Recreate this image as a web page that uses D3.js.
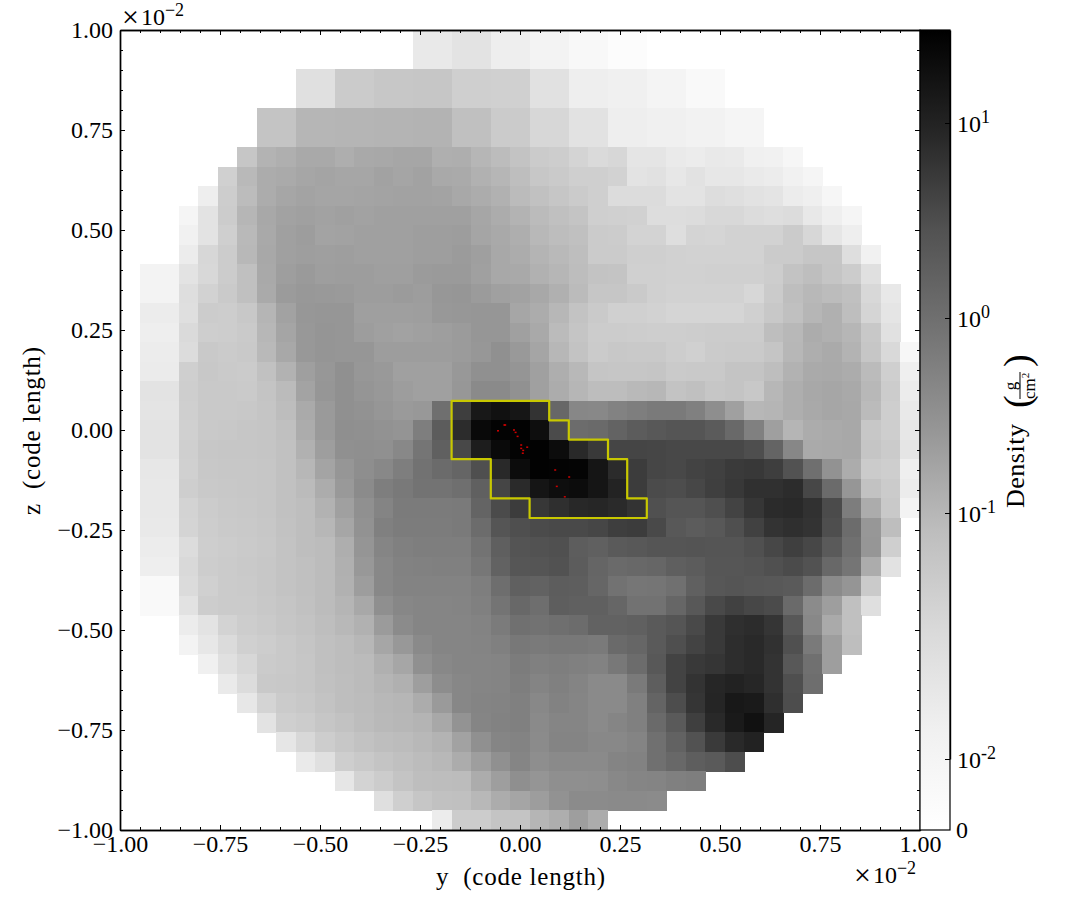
<!DOCTYPE html>
<html><head><meta charset="utf-8">
<script src="https://cdn.jsdelivr.net/npm/d3@7/dist/d3.min.js"></script>
<style>
html,body{margin:0;padding:0;background:#fff;}
svg{display:block;}
text{font-family:"Liberation Serif",serif;fill:#000;}
</style></head><body><svg id="c" width="1085" height="920"></svg>
<script>
// Values: log10(density) x 100 for every filled cell; a row starts at column rowFirstColumn[r]
const gridSize = 41;
const rowFirstColumn = [15,15,9,9,7,7,6,5,4,3,3,3,1,1,1,1,1,1,1,1,1,1,1,1,1,1,1,1,1,1,3,3,4,5,6,7,8,9,11,13,16];
const logDensityRows = [
[-176,-176,-165,-165,-185,-185,-196,-196,-218,-218,-255,-255],
[-176,-176,-165,-165,-185,-185,-196,-196,-218,-218,-255,-255],
[-160,-160,-127,-127,-121,-121,-120,-120,-133,-133,-135,-135,-162,-162,-185,-185,-188,-188,-199,-199,-225,-225],
[-160,-160,-127,-127,-121,-121,-120,-120,-133,-133,-135,-135,-162,-162,-185,-185,-188,-188,-199,-199,-225,-225],
[-117,-117,-99,-99,-98,-98,-97,-97,-96,-96,-111,-111,-127,-127,-145,-145,-164,-164,-185,-185,-188,-188,-194,-194,-202,-202],
[-117,-117,-99,-99,-98,-98,-97,-97,-96,-96,-111,-111,-127,-127,-145,-145,-164,-164,-185,-185,-188,-188,-194,-194,-202,-202],
[-120,-96,-90,-82,-82,-89,-82,-81,-79,-79,-90,-89,-100,-106,-116,-127,-130,-140,-149,-145,-169,-169,-178,-181,-176,-178,-188,-191,-207],
[-135,-103,-87,-84,-78,-76,-78,-78,-73,-77,-73,-82,-84,-93,-100,-109,-121,-126,-133,-133,-137,-165,-162,-173,-164,-173,-173,-178,-181,-191,-202],
[-185,-130,-106,-86,-78,-74,-77,-77,-76,-74,-73,-73,-74,-81,-87,-93,-105,-112,-120,-127,-133,-153,-153,-153,-165,-165,-155,-158,-164,-167,-182,-187,-207],
[-202,-165,-128,-99,-81,-73,-71,-73,-71,-73,-71,-70,-70,-70,-70,-79,-86,-96,-105,-111,-117,-133,-135,-136,-155,-155,-153,-146,-146,-153,-156,-153,-174,-187,-202],
[-191,-165,-133,-103,-82,-71,-67,-74,-73,-71,-70,-71,-68,-68,-67,-77,-82,-89,-102,-107,-111,-127,-128,-139,-139,-156,-140,-142,-137,-137,-137,-127,-145,-171,-185],
[-181,-144,-128,-102,-81,-70,-68,-69,-68,-71,-70,-70,-68,-68,-64,-69,-81,-86,-97,-103,-109,-127,-127,-133,-133,-136,-137,-137,-137,-137,-127,-127,-120,-120,-156,-191],
[-196,-196,-165,-146,-128,-111,-82,-68,-63,-68,-66,-67,-69,-69,-64,-63,-63,-70,-81,-82,-93,-100,-107,-116,-117,-135,-135,-136,-136,-135,-135,-135,-130,-116,-108,-118,-128,-160],
[-196,-196,-156,-137,-126,-111,-84,-64,-60,-61,-63,-66,-66,-64,-66,-59,-58,-64,-70,-73,-81,-91,-105,-120,-120,-126,-135,-137,-137,-137,-137,-144,-127,-109,-102,-106,-111,-146,-174],
[-182,-182,-158,-128,-130,-123,-98,-73,-59,-58,-58,-69,-69,-69,-68,-60,-59,-58,-58,-78,-86,-101,-116,-126,-135,-135,-137,-142,-142,-142,-142,-135,-123,-111,-99,-91,-109,-142,-169],
[-185,-185,-149,-131,-130,-126,-101,-77,-60,-56,-58,-66,-70,-73,-70,-68,-64,-58,-58,-70,-82,-105,-118,-128,-128,-130,-131,-131,-130,-128,-128,-128,-109,-102,-87,-91,-100,-123,-162],
[-181,-181,-153,-124,-127,-124,-103,-81,-60,-56,-58,-58,-66,-67,-67,-67,-64,-59,-49,-61,-77,-101,-116,-127,-123,-124,-124,-130,-135,-127,-126,-126,-118,-101,-89,-84,-96,-120,-147,-212],
[-179,-179,-133,-123,-126,-127,-112,-94,-69,-59,-49,-59,-61,-70,-70,-70,-60,-49,-49,-56,-70,-89,-102,-118,-120,-120,-118,-126,-124,-124,-117,-117,-109,-94,-84,-82,-86,-105,-133,-187],
[-165,-165,-131,-124,-124,-126,-117,-105,-74,-58,-49,-56,-60,-66,-70,-70,-59,-40,-40,-50,-70,-87,-100,-107,-107,-103,-101,-116,-111,-120,-117,-123,-101,-89,-81,-79,-82,-102,-128,-182],
[-167,-167,-133,-124,-124,-123,-118,-107,-84,-63,-49,-51,-58,-63,-60,0,68,114,124,117,80,13,-35,-37,-28,-23,-16,-16,-25,-45,-70,-101,-98,-89,-82,-78,-81,-105,-131,-176],
[-165,-165,-135,-124,-123,-120,-118,-111,-87,-63,-47,-49,-51,-54,-23,30,88,135,144,145,128,53,4,8,19,30,36,41,41,31,10,-25,-69,-98,-87,-84,-81,-121,-131,-173],
[-165,-165,-133,-121,-120,-120,-118,-112,-93,-68,-49,-47,-49,-37,-9,23,56,107,134,144,145,131,92,74,60,60,59,56,56,56,56,50,17,-35,-84,-82,-81,-118,-127,-169],
[-173,-173,-135,-123,-121,-121,-120,-112,-101,-76,-58,-45,-37,-23,-5,7,16,49,92,131,145,143,142,119,90,70,59,56,62,66,72,75,68,45,0,-51,-86,-127,-131,-187],
[-174,-174,-131,-124,-123,-121,-120,-112,-105,-87,-61,-42,-23,-15,-6,-6,0,23,60,91,119,128,131,119,99,70,53,51,58,67,75,84,84,88,58,7,-58,-114,-127,-182],
[-174,-174,-139,-128,-124,-123,-120,-112,-108,-94,-71,-49,-31,-18,-18,-18,-16,17,53,70,76,85,93,95,91,80,47,41,41,48,62,77,90,92,83,53,-21,-86,-124,-196],
[-176,-176,-140,-130,-126,-124,-121,-114,-109,-101,-79,-51,-25,-19,-19,-19,-16,4,41,49,53,55,55,59,68,70,55,36,30,36,49,65,80,85,81,50,5,-59,-108],
[-182,-182,-153,-131,-128,-126,-123,-116,-109,-106,-89,-56,-32,-25,-23,-23,-23,-6,25,42,45,47,28,23,33,36,41,41,42,41,41,47,58,67,58,33,-2,-58,-133],
[-185,-185,-147,-130,-127,-124,-121,-116,-111,-106,-91,-60,-37,-28,-26,-25,-25,-12,20,39,41,45,30,16,8,11,14,25,30,39,39,42,47,53,45,11,-9,-86,-164],
[-225,-225,-151,-135,-127,-126,-121,-116,-111,-106,-93,-67,-37,-30,-30,-30,-30,-23,2,23,20,28,27,14,-5,-11,-9,-2,23,38,41,38,36,33,5,-42,-56,-126],
[-225,-225,-164,-130,-127,-127,-123,-118,-112,-106,-98,-81,-47,-35,-32,-32,-31,-25,-8,11,2,27,23,23,14,-5,-5,14,36,55,65,58,53,8,-42,-68,-111,-158],
[-182,-165,-139,-130,-126,-120,-116,-109,-102,-93,-64,-41,-33,-32,-32,-30,-18,-2,-5,0,5,20,20,23,33,41,55,74,85,88,78,36,-37,-84,-111],
[-196,-173,-151,-135,-130,-124,-118,-111,-107,-101,-79,-60,-40,-33,-32,-31,-25,-14,-16,-14,-14,-16,8,14,33,49,62,74,87,92,83,47,-16,-68,-109],
[-188,-160,-144,-127,-124,-120,-111,-107,-105,-91,-78,-49,-37,-33,-32,-31,-19,-25,-23,-25,-28,-14,5,36,62,74,78,87,92,81,36,-2,-68],
[-178,-153,-124,-123,-120,-112,-108,-105,-98,-91,-68,-44,-35,-32,-31,-23,-31,-25,-31,-40,-40,-16,27,62,81,95,101,95,81,49,2],
[-173,-140,-127,-123,-116,-109,-106,-102,-100,-86,-63,-35,-31,-30,-25,-37,-28,-33,-40,-40,-25,17,51,78,97,115,112,85,51],
[-165,-133,-128,-120,-114,-107,-103,-101,-97,-81,-53,-32,-28,-25,-40,-33,-33,-40,-33,-25,8,33,67,92,112,124,97],
[-171,-146,-130,-121,-114,-108,-106,-102,-96,-73,-49,-32,-30,-42,-31,-31,-37,-37,-31,-2,20,45,72,92,101],
[-178,-160,-131,-124,-117,-111,-106,-102,-87,-68,-49,-33,-45,-40,-40,-40,-31,-28,-2,11,27,33,51],
[-171,-139,-128,-117,-109,-107,-106,-87,-68,-47,-56,-47,-47,-45,-37,-33,-31,-25,-23],
[-158,-133,-120,-112,-111,-102,-87,-77,-66,-51,-42,-42,-40,-40,-42],
[-182,-128,-128,-117,-117,-98,-89,-68,-86]
];
// Clump contour in data units (y, z), x 10^-2 code length
const contourY = [-0.171,0.073,0.073,0.122,0.122,0.220,0.220,0.268,0.268,0.317,0.317,0.024,0.024,-0.073,-0.073,-0.171];
const contourZ = [0.073,0.073,0.024,0.024,-0.024,-0.024,-0.073,-0.073,-0.171,-0.171,-0.220,-0.220,-0.171,-0.171,-0.073,-0.073];
// Star particles in data units
const starY = [-0.039,-0.037,-0.055,-0.015,-0.011,-0.006,0.003,0.003,0.018,0.008,0.007,0.088,0.123,0.092,0.112];
const starZ = [0.0125,0.0125,-0.002,0,-0.006,-0.016,-0.0375,-0.046,-0.043,-0.051,-0.058,-0.1,-0.1175,-0.141,-0.167];
const majorTicks = [-1,-0.75,-0.5,-0.25,0,0.25,0.5,0.75,1];
const minorTicks = d3.range(-20,21).filter(i=>i%5!==0).map(i=>i/20);
const colorbarExponents = [-2,-1,0,1];
const logBreaks = [-2,-1,0,1,Math.log10(30)];
const normBreaks = [0.08875,0.39625,0.64,0.88375,1];
const greyStops = ['#ffffff','#f0f0f0','#d9d9d9','#bdbdbd','#969696','#737373','#525252','#252525','#000000'];

const svg = d3.select('#c');
const L=120,R=920,T=30,B=830;
const x = d3.scaleLinear().domain([-1,1]).range([L,R]);
const y = d3.scaleLinear().domain([-1,1]).range([B,T]);
const col = d3.scaleBand().domain(d3.range(gridSize)).range([L,R]);
const row = d3.scaleBand().domain(d3.range(gridSize)).range([T,B]);
const logNorm = d3.scaleLinear().domain(logBreaks).range(normBreaks);
const linNorm = d3.scaleLinear().domain([0,0.01]).range([0,normBreaks[0]]);
const norm = d => d<0.01 ? linNorm(d) : logNorm(Math.log10(d));
const grey = d3.scaleLinear().domain(greyStops.map((_,i)=>i/8)).range(greyStops);
const barY = d3.scaleLinear().domain([0,1]).range([B,T]);

// cells
const cells = logDensityRows.flatMap((vals,r)=>vals.map((v,i)=>({r,c:rowFirstColumn[r]+i,d:Math.pow(10,v/100)})));
svg.append('g').attr('shape-rendering','crispEdges').selectAll('rect').data(cells).join('rect')
  .attr('x',d=>col(d.c)).attr('y',d=>row(d.r))
  .attr('width',col.bandwidth()+0.5).attr('height',row.bandwidth()+0.5)
  .attr('fill',d=>grey(norm(d.d)));

// contour
const line = d3.line().x(d=>x(d[0])).y(d=>y(d[1])).curve(d3.curveLinearClosed);
svg.append('path').attr('d',line(contourY.map((v,i)=>[v,contourZ[i]])))
  .attr('fill','none').attr('stroke','#c8c800').attr('stroke-width',2.2).attr('stroke-linejoin','round');
// particles
svg.append('g').selectAll('rect').data(starY.map((v,i)=>[v,starZ[i]])).join('rect')
  .attr('x',d=>x(d[0])-1).attr('y',d=>y(d[1])-0.75).attr('width',2).attr('height',1.5).attr('fill','#d00000');

// axes
const fmt = d3.format('.2f');
function styleAxis(g){
  g.selectAll('path.domain').attr('stroke','#000').attr('stroke-width',1.4);
  g.selectAll('.tick line').attr('stroke','#000').attr('stroke-width',1);
  g.selectAll('text').attr('font-size',24).attr('font-family','"Liberation Serif",serif').attr('fill','#000');
}
const add=(axis,tx,ty)=>svg.append('g').attr('transform',`translate(${tx},${ty})`).call(axis).call(styleAxis);
add(d3.axisBottom(x).tickValues(minorTicks).tickSizeInner(-3).tickSizeOuter(0).tickFormat(''),0,B);
add(d3.axisTop(x).tickValues(minorTicks).tickSizeInner(-3).tickSizeOuter(0).tickFormat(''),0,T);
add(d3.axisLeft(y).tickValues(minorTicks).tickSizeInner(-3).tickSizeOuter(0).tickFormat(''),L,0);
add(d3.axisRight(y).tickValues(minorTicks).tickSizeInner(-3).tickSizeOuter(0).tickFormat(''),R,0);
add(d3.axisBottom(x).tickValues(majorTicks).tickSizeInner(-5).tickSizeOuter(0).tickPadding(5).tickFormat(fmt),0,B);
add(d3.axisTop(x).tickValues(majorTicks).tickSizeInner(-5).tickSizeOuter(0).tickFormat(''),0,T);
add(d3.axisLeft(y).tickValues(majorTicks).tickSizeInner(-5).tickSizeOuter(0).tickPadding(7).tickFormat(fmt),L,0);
add(d3.axisRight(y).tickValues(majorTicks).tickSizeInner(-5).tickSizeOuter(0).tickFormat(''),R,0);

function sup(sel,x0,y0,base,exp,size,supSize,rise){
  const t=sel.append('text').attr('x',x0).attr('y',y0).attr('font-size',size);
  t.append('tspan').text(base);
  t.append('tspan').attr('font-size',supSize).attr('dy',-rise).text(exp);
  return t;
}
function offsetLabel(x0,y0){
  const t=svg.append('text').attr('x',x0).attr('y',y0).attr('font-size',24);
  t.append('tspan').attr('font-size',30).attr('dy',2).text('×');
  t.append('tspan').attr('dx',2).attr('dy',-2).text('10');
  t.append('tspan').attr('font-size',18).attr('dy',-9).text('−2');
}
offsetLabel(122,25);
offsetLabel(854,883);

// axis labels
svg.append('text').attr('x',436).attr('y',885).attr('font-size',25).attr('textLength',169).attr('xml:space','preserve').text('y  (code length)');
svg.append('text').attr('transform','translate(40,515) rotate(-90)').attr('font-size',25).attr('textLength',168).attr('xml:space','preserve').text('z  (code length)');

// colorbar
const defs=svg.append('defs');
const grad=defs.append('linearGradient').attr('id','cb').attr('x1',0).attr('x2',0).attr('y1',1).attr('y2',0);
greyStops.forEach((c,i)=>grad.append('stop').attr('offset',i/8).attr('stop-color',c));
svg.append('rect').attr('x',R).attr('y',T).attr('width',30).attr('height',B-T).attr('fill','url(#cb)').attr('stroke','#000').attr('stroke-width',1.2);
const cbScale=d3.scaleLinear().domain(logBreaks).range(normBreaks.map(barY));
const cbAxis=d3.axisRight(cbScale).tickValues(colorbarExponents).tickSizeInner(-5).tickSizeOuter(0).tickFormat('');
add(cbAxis,R+30,0);
colorbarExponents.forEach(e=>{
  sup(svg,957,cbScale(e)+9,'10',String(e),24,18,9);
});
svg.append('text').attr('x',956).attr('y',B+8).attr('font-size',24).text('0');

// colorbar label
const lab=svg.append('g').attr('transform','translate(1024,508) rotate(-90)');
lab.append('text').attr('x',0).attr('y',0).attr('font-size',26).attr('textLength',84).text('Density');
lab.append('text').attr('x',100).attr('y',6).attr('font-size',38).text('(');
lab.append('text').attr('x',122).attr('y',-8).attr('font-size',17).attr('text-anchor','middle').text('g');
lab.append('line').attr('x1',109).attr('x2',136).attr('y1',-4).attr('y2',-4).attr('stroke','#000').attr('stroke-width',1);
const den=lab.append('text').attr('x',109).attr('y',11).attr('font-size',17);
den.append('tspan').text('cm');
den.append('tspan').attr('font-size',11).attr('dy',-6).text('2');
lab.append('text').attr('x',141).attr('y',6).attr('font-size',38).text(')');
</script></body></html>
